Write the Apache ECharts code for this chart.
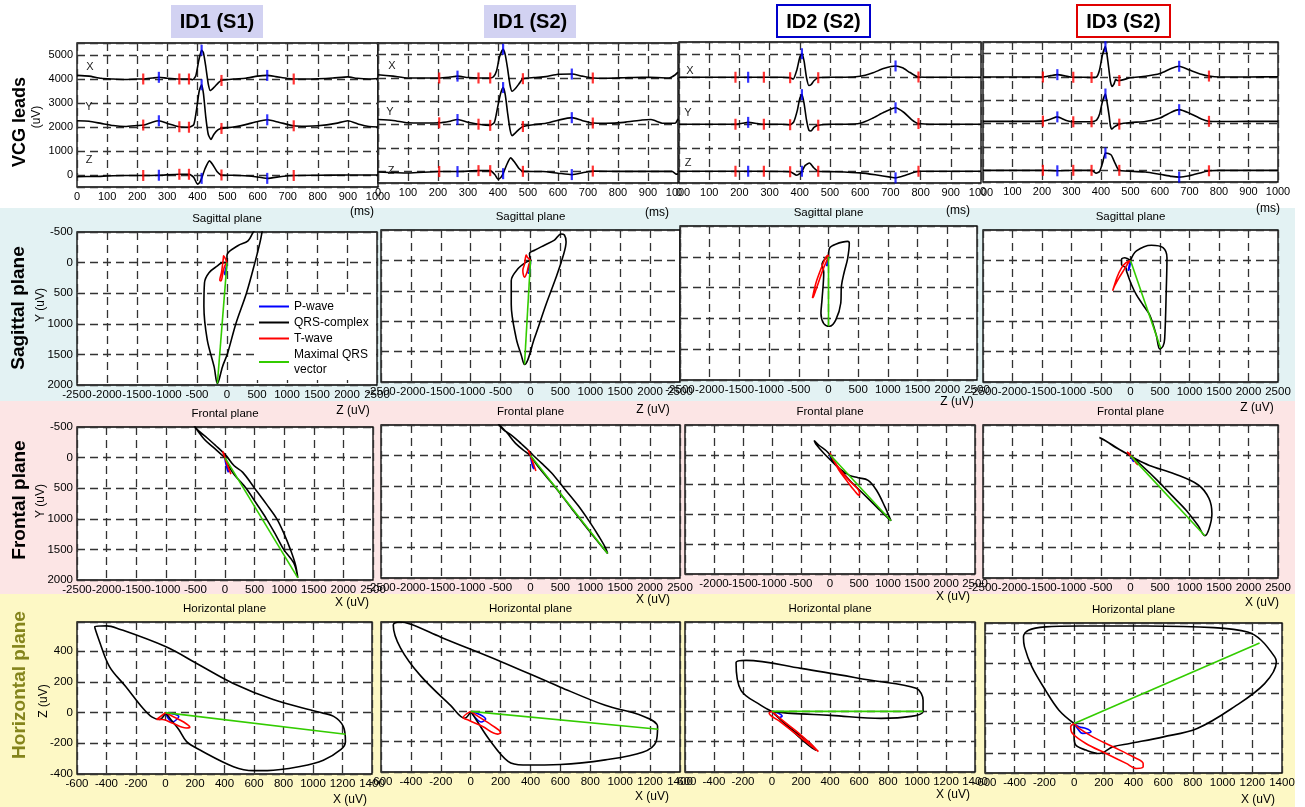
<!DOCTYPE html>
<html><head><meta charset="utf-8">
<script src="https://cdn.jsdelivr.net/npm/echarts@6/dist/echarts.min.js"></script>
<style>html,body{margin:0;padding:0;background:#fff}#c{width:1305px;height:807px}</style>
</head><body><div id="c"></div><script>
// ---------------- DATA ----------------
const columnTitles = ['ID1 (S1)', 'ID1 (S2)', 'ID2 (S2)', 'ID3 (S2)'];
const leadNames = ['X', 'Y', 'Z'];
const leadOffsets = [4000, 2000, 0];   // vertical stacking of the three leads (uV)
const timeTicks = [0, 1000, 100];       // min, max, step (ms)

// VCG leads, [time ms, uV] (relative to each lead's offset)
const c1X = [[0,150],[40,120],[80,30],[120,0],[160,-20],[200,0],[220,0],[250,40],[272,70],[300,30],[340,0],[372,0],[385,-30],[395,150],[405,800],[414,1200],[420,1100],[428,500],[436,-200],[443,-480],[455,-350],[470,-150],[480,-60],[520,0],[560,30],[600,120],[632,150],[660,100],[700,20],[720,0],[760,0],[800,10],[850,40],[900,90],[930,30],[970,0],[1000,20]];
const c1Y = [[0,260],[40,240],[80,150],[120,60],[160,20],[200,60],[220,80],[250,200],[272,260],[300,150],[340,10],[372,-10],[388,100],[398,800],[406,1500],[414,1760],[420,1400],[428,400],[436,-300],[445,-520],[455,-300],[468,-120],[480,-60],[520,0],[560,100],[600,230],[632,300],[670,200],[720,50],[760,30],[800,50],[860,150],[900,260],[940,100],[970,20],[1000,0]];
const c1Z = [[0,-70],[60,-60],[120,-30],[200,-20],[220,-20],[272,-10],[340,30],[372,30],[388,-100],[400,-380],[408,-300],[414,-140],[425,250],[440,590],[450,450],[465,150],[480,0],[520,-10],[580,-50],[632,-140],[680,-60],[720,-20],[800,-10],[900,0],[1000,0]];
const c1Red = [220,340,372,480,720];
const c1Blue = [272,414,632];

const c2X = [[0,140],[50,80],[100,0],[150,0],[204,0],[240,40],[265,80],[300,20],[335,0],[374,0],[385,50],[395,300],[405,900],[417,1230],[424,1000],[432,400],[440,-300],[447,-570],[458,-450],[470,-250],[483,-30],[520,20],[560,60],[600,160],[646,170],[680,80],[716,0],[760,-10],[820,10],[880,30],[930,20],[970,0],[990,130],[1000,250]];
const c2Y = [[0,220],[50,180],[100,80],[150,70],[204,80],[240,150],[265,220],[300,100],[335,20],[374,-30],[388,100],[398,700],[408,1300],[417,1590],[424,1300],[432,500],[440,-200],[447,-470],[458,-350],[470,-200],[483,-80],[520,0],[560,60],[600,190],[646,300],[680,180],[716,70],[760,60],[820,100],[880,200],[910,220],[950,60],[990,60],[1000,250]];
const c2Z = [[0,-30],[100,-70],[204,-10],[265,-10],[335,30],[374,30],[390,-150],[400,-340],[410,-250],[417,-100],[428,250],[442,575],[455,400],[470,120],[483,0],[550,-10],[600,-80],[646,-140],[690,-40],[716,10],[800,0],[900,0],[980,0],[995,-120],[1000,-100]];
const c2Red = [204,335,374,483,716];
const c2Blue = [265,417,646];

const c3X = [[0,0],[100,0],[187,0],[229,0],[281,0],[340,0],[368,-20],[378,-80],[390,300],[400,850],[407,1000],[414,700],[422,0],[430,-350],[437,-320],[447,-150],[461,-20],[500,0],[550,0],[600,40],[640,180],[680,380],[717,480],[740,400],[765,200],[793,10],[850,0],[1000,0]];
const c3Y = [[0,0],[100,0],[187,0],[210,40],[229,80],[260,30],[281,0],[340,0],[368,-20],[380,100],[392,600],[400,1100],[407,1260],[414,900],[422,200],[430,-250],[437,-290],[447,-130],[461,-40],[500,0],[550,0],[600,40],[640,250],[680,520],[717,700],[745,500],[770,200],[793,30],[850,0],[1000,0]];
const c3Z = [[0,0],[187,0],[229,0],[281,0],[368,-20],[390,-170],[400,-100],[407,0],[418,250],[432,350],[446,150],[461,0],[520,-20],[600,-70],[650,-150],[700,-250],[717,-280],[750,-170],[793,0],[850,0],[1000,0]];
const c3Red = [187,281,368,461,793];
const c3Blue = [229,407,717];

const c4X = [[0,0],[100,0],[203,0],[230,60],[252,100],[280,40],[306,-10],[340,-10],[368,-20],[385,0],[395,300],[405,950],[415,1300],[422,800],[428,200],[432,-200],[437,-400],[444,-300],[450,-100],[456,-150],[462,-150],[500,-30],[550,30],[600,150],[640,380],[665,460],[700,300],[740,120],[766,40],[800,0],[900,0],[1000,10]];
const c4Y = [[0,100],[100,100],[203,110],[230,200],[252,290],[280,150],[306,80],[340,80],[368,80],[385,150],[395,400],[405,950],[415,1270],[422,800],[428,300],[432,-100],[437,-230],[444,-150],[462,-20],[500,50],[550,90],[600,240],[640,500],[665,600],[700,450],[740,200],[766,100],[800,90],[900,100],[1000,100]];
const c4Z = [[0,0],[100,0],[203,0],[252,-20],[306,0],[368,0],[384,-120],[395,-50],[405,300],[415,740],[425,720],[435,650],[448,300],[462,0],[550,-70],[600,-170],[640,-260],[665,-290],[700,-230],[740,-100],[766,-20],[800,0],[1000,0]];
const c4Red = [203,306,368,462,766];
const c4Blue = [252,415,665];

// Sagittal plane loops, [Z uV, Y uV]
const sagQRS1 = [[0,0],[0,-120],[180,-275],[350,-355],[480,-530],[590,-530],[550,-330],[465,0],[325,495],[150,990],[10,1480],[-75,1700],[-160,1975],[-215,1700],[-330,1260],[-385,715],[-375,330],[-300,165],[-160,55],[-75,0],[0,0]];
const sagT1 = [[0,0],[-57,-110],[-60,-80],[-90,150],[-120,290],[-100,300],[-70,180],[-40,60],[0,0]];
const sagP1 = [[0,0],[-20,100],[-40,180],[-25,200],[-10,100],[0,0]];
const sagMax1 = [[0,0],[-160,1975]];
const sagQRS2 = [[0,0],[-17,-111],[67,-167],[233,-250],[400,-333],[511,-434],[567,-417],[595,-305],[540,-55],[428,278],[261,722],[67,1278],[-100,1712],[-155,1556],[-240,1278],[-322,722],[-322,333],[-211,139],[-72,28],[0,0]];
const sagT2 = [[0,0],[-55,-55],[-72,-90],[-100,60],[-128,167],[-100,278],[-60,200],[-30,80],[0,0]];
const sagP2 = [[0,0],[-30,120],[-45,195],[-20,210],[-5,100],[0,0]];
const sagMax2 = [[0,0],[-100,1712]];
const sagQRS3 = [[0,0],[17,-139],[121,-205],[322,-250],[350,-222],[322,28],[264,250],[218,472],[207,750],[121,1028],[17,1128],[-80,1084],[-127,917],[-109,695],[-80,250],[-109,111],[-52,28],[0,0]];
const sagT3 = [[0,-30],[-40,0],[-120,180],[-210,420],[-270,667],[-250,640],[-170,420],[-90,200],[-20,40],[0,-30]];
const sagP3 = [[0,0],[-20,80],[-30,150],[-10,120],[0,0]];
const sagMax3 = [[0,0],[0,1128]];
const sagQRS4 = [[0,0],[101,-156],[354,-250],[551,-211],[618,-44],[607,456],[579,1290],[551,1412],[495,1456],[438,1234],[326,900],[213,734],[101,567],[17,400],[-67,178],[-79,122],[-152,67],[-152,-17],[-95,-44],[0,0]];
const sagT4 = [[0,0],[-80,40],[-152,122],[-230,280],[-303,500],[-270,420],[-190,280],[-100,140],[-30,30],[0,0]];
const sagP4 = [[0,0],[-20,80],[-40,170],[-25,150],[-5,60],[0,0]];
const sagMax4 = [[0,0],[512,1445]];

// Frontal plane loops, [X uV, Y uV]
const froQRS1 = [[0,0],[-60,-50],[-200,-170],[-350,-300],[-520,-520],[-450,-440],[-300,-320],[-150,-190],[-60,-110],[30,-20],[155,134],[300,242],[500,500],[700,760],[875,1000],[1000,1250],[1104,1500],[1190,1750],[1230,1964],[1161,1722],[990,1500],[850,1250],[700,1000],[530,750],[356,500],[200,330],[127,242],[40,100],[0,0]];
const froT1 = [[0,0],[-40,-100],[-20,-60],[40,120],[100,270],[80,220],[20,60],[0,0]];
const froP1 = [[0,0],[30,130],[60,240],[40,200],[10,80],[0,0]];
const froMax1 = [[0,0],[1230,1964]];
const froQRS2 = [[0,0],[-80,-60],[-250,-200],[-400,-380],[-540,-520],[-460,-430],[-300,-320],[-150,-190],[-50,-100],[40,-10],[180,120],[350,280],[550,520],[800,820],[1000,1100],[1150,1330],[1250,1500],[1290,1600],[1230,1530],[1080,1350],[900,1130],[700,880],[480,600],[280,360],[120,170],[0,0]];
const froT2 = [[0,0],[-40,-90],[-20,-50],[40,110],[90,250],[70,200],[20,60],[0,0]];
const froP2 = [[0,0],[30,120],[60,220],[40,190],[10,70],[0,0]];
const froMax2 = [[0,0],[1290,1600]];
const froQRS3 = [[0,0],[-70,-72],[-186,-156],[-273,-239],[-244,-183],[-99,-17],[17,95],[163,233],[337,345],[482,384],[657,428],[802,595],[947,873],[1052,1106],[1005,1067],[802,873],[569,650],[337,428],[163,233],[46,95],[0,0]];
const froT3 = [[0,-30],[40,50],[150,250],[300,450],[420,600],[500,680],[510,640],[470,560],[350,450],[200,280],[60,90],[0,-30]];
const froP3 = [[0,0],[30,60],[50,120],[20,80],[0,0]];
const froMax3 = [[0,0],[1052,1106]];
const froQRS4 = [[0,0],[-150,-80],[-350,-200],[-527,-295],[-450,-260],[-250,-130],[-60,-30],[100,60],[320,160],[750,300],[1150,480],[1330,700],[1380,950],[1330,1200],[1260,1310],[1150,1150],[950,900],[700,650],[450,400],[200,170],[0,0]];
const froT4 = [[0,0],[-60,-60],[-30,-40],[50,60],[130,150],[100,130],[40,40],[0,0]];
const froP4 = [[0,0],[20,40],[60,100],[40,80],[0,0]];
const froMax4 = [[0,0],[1260,1310]];

// Horizontal plane loops, [X uV, Z uV]
const horQRS1 = [[0,0],[-40,-45],[-90,-30],[-150,25],[-270,170],[-380,300],[-450,470],[-480,560],[-400,565],[-330,550],[0,430],[230,310],[460,190],[730,85],[1030,5],[1140,-25],[1205,-90],[1220,-190],[1190,-240],[1070,-310],[920,-350],[690,-378],[597,-378],[461,-352],[234,-244],[143,-189],[90,-110],[40,-50],[0,0]];
const horT1 = [[0,0],[-60,-45],[-20,-45],[50,-70],[140,-100],[165,-95],[120,-60],[50,-25],[0,0]];
const horP1 = [[0,0],[20,-40],[50,-60],[75,-45],[90,-25],[60,-10],[0,0]];
const horMax1 = [[0,0],[1221,-141]];
const horQRS2 = [[0,0],[-40,-45],[-135,40],[-336,236],[-470,420],[-518,571],[-480,590],[-400,575],[-200,490],[200,330],[600,160],[900,40],[1150,-30],[1250,-100],[1240,-200],[1150,-270],[900,-320],[600,-350],[350,-354],[250,-330],[120,-180],[40,-60],[0,0]];
const horT2 = [[0,0],[-50,-40],[-10,-60],[80,-100],[180,-150],[200,-140],[140,-90],[60,-40],[0,0]];
const horP2 = [[0,0],[30,-40],[70,-70],[100,-50],[60,-20],[0,0]];
const horMax2 = [[0,0],[1255,-118]];
const horQRS3 = [[0,0],[-76,40],[-214,139],[-248,323],[-179,337],[200,284],[683,205],[994,152],[1042,73],[1042,0],[959,-33],[752,-46],[407,-26],[131,-13],[0,0],[100,-90],[250,-200],[304,-257],[260,-230],[120,-110],[0,0]];
const horT3 = [[0,0],[-20,-10],[60,-70],[180,-160],[300,-250],[320,-265],[290,-235],[180,-140],[60,-50],[0,0]];
const horP3 = [[0,0],[20,-20],[50,-40],[70,-30],[40,-10],[0,0]];
const horMax3 = [[0,0],[1042,0]];
const horQRS4 = [[0,0],[-102,89],[-193,222],[-284,377],[-334,511],[-341,577],[-307,622],[-193,644],[34,650],[488,650],[942,639],[1169,610],[1260,555],[1351,444],[1362,411],[1283,266],[1078,111],[829,-33],[602,-89],[375,-133],[261,-155],[170,-200],[79,-177],[11,-144],[0,-89],[0,0]];
const horT4 = [[0,0],[-23,-22],[-11,-67],[79,-133],[215,-200],[351,-266],[420,-300],[465,-289],[465,-266],[397,-222],[261,-155],[125,-89],[34,-33],[0,0]];
const horP4 = [[0,0],[23,-33],[57,-66],[114,-55],[80,-33],[34,-22],[0,0]];
const horMax4 = [[0,0],[1249,537]];

// ---------------- LAYOUT / STYLE ----------------
const FONT = '"Liberation Sans", Arial, sans-serif';
const gridRects = [
  [[77,43,301,144],[378,43,300,140],[679,42,302,141],[983,42,295,140]],
  [[77,232,300,153],[381,230,299,152],[680,226,297,154],[983,230,295,152]],
  [[77,427,296,153],[381,425,299,153],[685,425,290,149],[983,425,295,153]],
  [[77,622,295,152],[381,622,299,150],[685,622,290,150],[985,623,297,150]]
];
const COL = {P:'#0000ff', QRS:'#000000', T:'#ff0000', MAX:'#33cc00'};

const leads = [[c1X,c1Y,c1Z],[c2X,c2Y,c2Z],[c3X,c3Y,c3Z],[c4X,c4Y,c4Z]];
const redMarks = [c1Red,c2Red,c3Red,c4Red];
const blueMarks = [c1Blue,c2Blue,c3Blue,c4Blue];
const planes = [
  {title:'Sagittal plane', QRS:[sagQRS1,sagQRS2,sagQRS3,sagQRS4], T:[sagT1,sagT2,sagT3,sagT4], P:[sagP1,sagP2,sagP3,sagP4], MAX:[sagMax1,sagMax2,sagMax3,sagMax4]},
  {title:'Frontal plane', QRS:[froQRS1,froQRS2,froQRS3,froQRS4], T:[froT1,froT2,froT3,froT4], P:[froP1,froP2,froP3,froP4], MAX:[froMax1,froMax2,froMax3,froMax4]},
  {title:'Horizontal plane', QRS:[horQRS1,horQRS2,horQRS3,horQRS4], T:[horT1,horT2,horT3,horT4], P:[horP1,horP2,horP3,horP4], MAX:[horMax1,horMax2,horMax3,horMax4]}
];

const splitLine = {show:true, lineStyle:{color:'#333', width:1.3, type:[8,5]}};
const opt = {animation:false, grid:[], xAxis:[], yAxis:[], series:[], graphic:[]};
const plainFmt = v => String(v);

function addGrid(r){
  opt.grid.push({left:r[0], top:r[1], width:r[2], height:r[3], show:true, backgroundColor:'#fff', borderColor:'#000', borderWidth:1.3, containLabel:false});
  return opt.grid.length-1;
}
function axis(g, o, showLabel, fs, fmt){
  return Object.assign({type:'value', gridIndex:g, axisLine:{show:false}, axisTick:{show:false}, splitLine:splitLine,
    axisLabel:{show:showLabel, fontSize:fs, color:'#000', fontFamily:FONT, margin:4, formatter: fmt || plainFmt}}, o);
}
function line(g, name, data, color, smooth){
  opt.series.push({type:'line', name:name, xAxisIndex:g, yAxisIndex:g, data:data, symbol:'none', smooth:smooth, clip:true,
    lineStyle:{color:color, width:1.6}, itemStyle:{color:color}, emphasis:{disabled:true}, silent:true});
}
function valAt(arr, t){ const p = arr.find(q => q[0] === t); return p ? p[1] : null; }

// Row 1: VCG leads
for (let c = 0; c < 4; c++){
  const g = addGrid(gridRects[0][c]);
  opt.xAxis.push(axis(g, {min:timeTicks[0], max:timeTicks[1], interval:timeTicks[2]}, true, 11));
  opt.yAxis.push(axis(g, {min:-500, max:5500, splitNumber:6, minInterval:1000, maxInterval:1000}, c === 0, 11,
    v => (v % 1000 === 0 ? String(v) : '')));
  const redPts = [], bluePts = [];
  leads[c].forEach((ld, k) => {
    line(g, columnTitles[c] + ' ' + leadNames[k], ld.map(p => [p[0], p[1] + leadOffsets[k]]), '#000', 0.2);
    redMarks[c].forEach(t => { const v = valAt(ld, t); if (v !== null) redPts.push([t, v + leadOffsets[k]]); });
    blueMarks[c].forEach(t => { const v = valAt(ld, t); if (v !== null) bluePts.push([t, v + leadOffsets[k]]); });
  });
  [[redPts, COL.T], [bluePts, COL.P]].forEach(([pts, col]) => {
    opt.series.push({type:'scatter', xAxisIndex:g, yAxisIndex:g, data:pts, symbol:'rect', symbolSize:[2.2, 11],
      itemStyle:{color:col}, silent:true, z:3});
  });
}

// Rows 2-4: loops
planes.forEach((pl, r) => {
  for (let c = 0; c < 4; c++){
    const g = addGrid(gridRects[r+1][c]);
    if (r < 2){
      opt.xAxis.push(axis(g, {min:-2500, max:2500, interval:500}, true, 11.5));
      opt.yAxis.push(axis(g, {min:-500, max:2000, interval:500, inverse:true}, c === 0, 11.5));
    } else {
      opt.xAxis.push(axis(g, {min:-600, max:1400, interval:200}, true, 11.5));
      const yr = c === 3 ? {min:-330, max:670} : {min:-400, max:590};
      opt.yAxis.push(axis(g, Object.assign(yr, {splitNumber:5, minInterval:200, maxInterval:200}), c === 0, 11.5,
        v => (v % 200 === 0 ? String(v) : '')));
    }
    line(g, 'P-wave', pl.P[c], COL.P, 0.35);
    line(g, 'QRS-complex', pl.QRS[c], COL.QRS, 0.35);
    line(g, 'T-wave', pl.T[c], COL.T, 0.35);
    line(g, 'Maximal QRS\nvector', pl.MAX[c], COL.MAX, false);
  }
});

opt.legend = {left:256, top:296, orient:'vertical', icon:'rect', itemWidth:30, itemHeight:2, itemGap:1, selectedMode:false,
  backgroundColor:'#ffffff', padding:[3,4,3,3],
  textStyle:{fontSize:12, fontFamily:FONT, color:'#000', lineHeight:15},
  data:['P-wave','QRS-complex','T-wave','Maximal QRS\nvector']};

// Graphics: background bands, titles, labels
const G = opt.graphic;
G.push({type:'rect', z:-10, shape:{x:0,y:208,width:1295,height:193}, style:{fill:'#e3f2f3'}, silent:true});
G.push({type:'rect', z:-10, shape:{x:0,y:401,width:1295,height:193}, style:{fill:'#fce5e5'}, silent:true});
G.push({type:'rect', z:-10, shape:{x:0,y:594,width:1295,height:213}, style:{fill:'#fdf8c5'}, silent:true});

function txt(s, x, y, font, fill, rot){
  G.push({type:'text', x:x, y:y, rotation:rot||0, silent:true, z:5,
    style:{text:s, font:font, fill:fill||'#000', align:'center', verticalAlign:'middle'}});
}
const boxes = [[171,5,92,33,'#d2d2f2',null],[484,5,92,33,'#d2d2f2',null],[777,5,93,32,'#ffffff','#0000cc'],[1077,5,93,32,'#ffffff','#e00000']];
boxes.forEach((b, i) => {
  G.push({type:'rect', z:4, shape:{x:b[0],y:b[1],width:b[2],height:b[3]}, style:{fill:b[4], stroke:b[5]||null, lineWidth:b[5]?2:0}, silent:true});
  txt(columnTitles[i], b[0]+b[2]/2, b[1]+b[3]/2+1, 'bold 20px ' + FONT);
});
const R90 = Math.PI/2;
txt('VCG leads', 20, 122, 'bold 18px ' + FONT, '#000', R90);
txt('(uV)', 37, 117, '12px ' + FONT, '#000', R90);
txt('Sagittal plane', 19, 308, 'bold 19px ' + FONT, '#000', R90);
txt('Y (uV)', 41, 305, '12px ' + FONT, '#000', R90);
txt('Frontal plane', 20, 500, 'bold 19px ' + FONT, '#000', R90);
txt('Y (uV)', 41, 501, '12px ' + FONT, '#000', R90);
txt('Horizontal plane', 20, 685, 'bold 19px ' + FONT, '#84841c', R90);
txt('Z (uV)', 44, 701, '12px ' + FONT, '#000', R90);

[[362,212],[657,213],[958,211],[1268,209]].forEach(p => txt('(ms)', p[0], p[1], '12px ' + FONT));
[[353,411],[653,410],[957,402],[1257,408]].forEach(p => txt('Z (uV)', p[0], p[1], '12px ' + FONT));
[[352,603],[653,600],[953,597],[1262,603]].forEach(p => txt('X (uV)', p[0], p[1], '12px ' + FONT));
[[350,800],[652,797],[953,795],[1258,800]].forEach(p => txt('X (uV)', p[0], p[1], '12px ' + FONT));

planes.forEach((pl, r) => {
  for (let c = 0; c < 4; c++){
    const gr = gridRects[r+1][c];
    txt(pl.title, gr[0] + gr[2]/2, gr[1] - 13, '11.5px ' + FONT);
  }
});
const leadLabelPos = [[[90,67],[89,107],[89,160]],[[392,66],[390,112],[391,171]],[[690,71],[688,113],[688,163]]];
leadLabelPos.forEach(col => col.forEach((p, k) => txt(leadNames[k], p[0], p[1], '11px ' + FONT, '#222')));

const chart = echarts.init(document.getElementById('c'), null, {renderer:'canvas'});
chart.setOption(opt);
</script></body></html>
